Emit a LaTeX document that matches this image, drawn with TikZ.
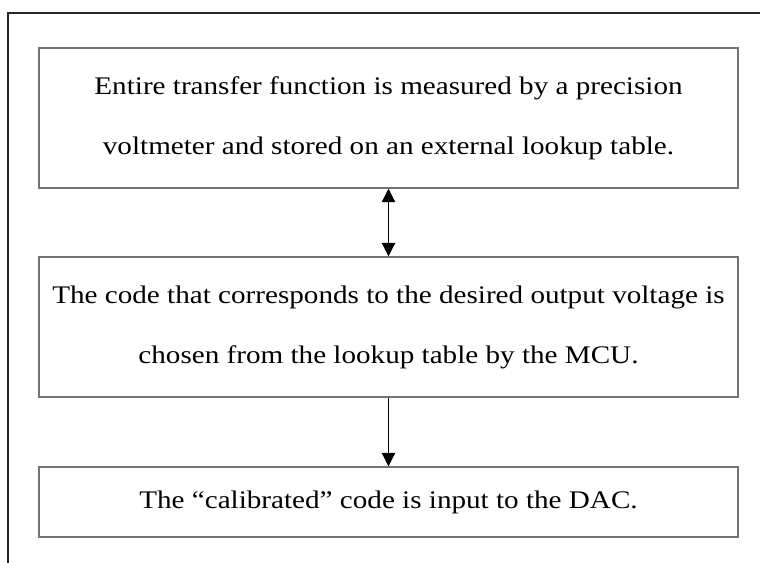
\documentclass[tikz,border=0pt]{standalone}
\usepackage{fontspec}
\setmainfont[FakeStretch=1.15]{Liberation Serif}
\usetikzlibrary{arrows.meta}
\begin{document}
\begin{tikzpicture}[x=0.75pt,y=-0.75pt,
  stepbox/.style={draw=black!55,line width=1.1pt,minimum width=699*0.75pt,inner sep=0pt,align=center,font=\fontsize{19}{45}\selectfont},
  conn/.style={line width=0.8pt,-{Triangle[length=10pt,width=10pt]}},
  dconn/.style={line width=0.8pt,{Triangle[length=10pt,width=10pt]}-{Triangle[length=10pt,width=10pt]}}]
\useasboundingbox (0,0) rectangle (760,563);
\draw[line width=0.9pt,black!85] (8,563) -- (8,13) -- (760,13);
\node[stepbox,minimum height=140*0.75pt] (b1) at (388.5,118) {Entire transfer function is measured by a precision\\voltmeter and stored on an external lookup table.};
\node[stepbox,minimum height=140*0.75pt] (b2) at (388.5,327) {The code that corresponds to the desired output voltage is\\chosen from the lookup table by the MCU.};
\node[stepbox,minimum height=70*0.75pt] (b3) at (388.5,502) {The “calibrated” code is input to the DAC.};
\draw[dconn] (b1.south) -- (b2.north);
\draw[conn] (b2.south) -- (b3.north);
\end{tikzpicture}
\end{document}
